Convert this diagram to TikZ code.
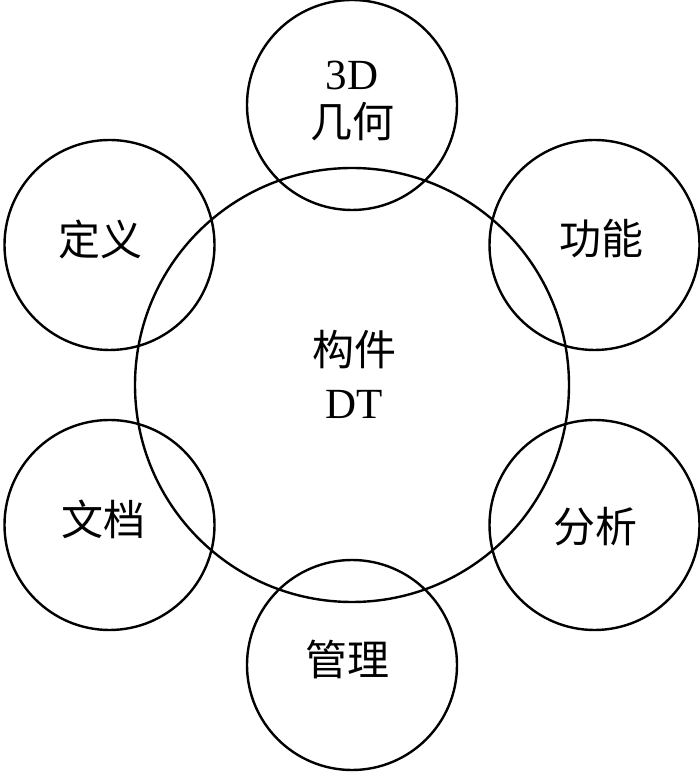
\documentclass[tikz,border=0pt]{standalone}
\usepackage{fontspec}
\setmainfont{Liberation Serif}
\newfontfamily\cjk{Noto Sans CJK SC}
\begin{document}
\begin{tikzpicture}[x=1pt,y=1pt,
  ring/.style={draw=black,line width=2.4pt,circle,inner sep=0pt,minimum size=210pt},
  hub/.style={draw=black,line width=2.4pt,circle,inner sep=0pt,minimum size=434pt},
  zh/.style={inner sep=0pt,font=\cjk\fontsize{42}{50}\selectfont},
  en/.style={inner sep=0pt,font=\fontsize{43}{50}\selectfont}]
\useasboundingbox (0,0) rectangle (700,773);
\node[hub] (c) at (352,388) {};
\node[ring] (top) at (352,668) {};
\node[ring] (tr) at (594.5,528) {};
\node[ring] (br) at (594.5,248) {};
\node[ring] (bot) at (352,108) {};
\node[ring] (bl) at (109.5,248) {};
\node[ring] (tl) at (109.5,528) {};
\node[en] (t3d) at (352,698) {3D};
\node[zh] (tgeo) at (352,651) {几何};
\node[zh] (cgj) at (354,423) {构件};
\node[en] (cdt) at (354,369) {DT};
\node[zh] (tdy) at (100,534) {定义};
\node[zh] (tgn) at (601,534) {功能};
\node[zh] (twd) at (103,254) {文档};
\node[zh] (tfx) at (595,246) {分析};
\node[zh] (tgl) at (347,114) {管理};
\end{tikzpicture}
\end{document}
